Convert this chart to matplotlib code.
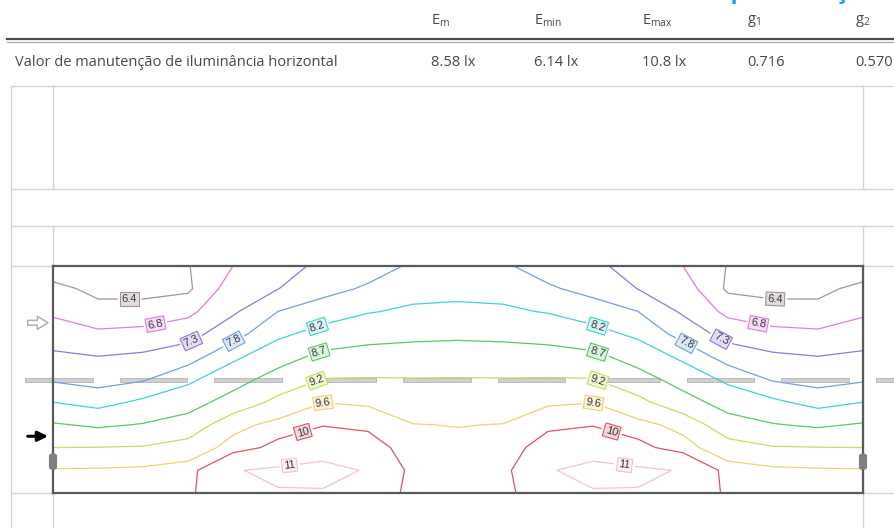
import numpy as np
import matplotlib
matplotlib.use('Agg')
from matplotlib import pyplot as plt
from matplotlib.patches import Rectangle, FancyBboxPatch

plt.rcParams['font.family'] = ['Open Sans', 'DejaVu Sans']
plt.rcParams['mathtext.fontset'] = 'custom'
plt.rcParams['mathtext.rm'] = 'Open Sans'

# tabela de resultados
headers = [r'$\mathregular{E_{m}}$', r'$\mathregular{E_{min}}$', r'$\mathregular{E_{max}}$',
           r'$\mathregular{g_{1}}$', r'$\mathregular{g_{2}}$']
row_label = 'Valor de manutenção de iluminância horizontal'
row_values = ['8.58 lx', '6.14 lx', '10.8 lx', '0.716', '0.570']

# malha de cálculo (m), iluminância em lx, linhas de cima para baixo
grid_x = np.linspace(0, 36, 19)
grid_y = np.linspace(0, 10, 11)
lux = np.array([
    [6.15, 6.20, 6.25, 6.38, 6.80, 7.12, 7.40, 7.64, 7.85, 7.90, 7.85, 7.64, 7.40, 7.12, 6.80, 6.38, 6.25, 6.20, 6.15],
    [6.51, 6.30, 6.30, 6.33, 7.02, 7.29, 7.68, 7.85, 8.05, 8.07, 8.05, 7.85, 7.68, 7.29, 7.02, 6.33, 6.30, 6.30, 6.51],
    [6.72, 6.52, 6.52, 6.68, 7.22, 7.80, 7.98, 8.17, 8.27, 8.30, 8.27, 8.17, 7.98, 7.80, 7.22, 6.68, 6.52, 6.52, 6.72],
    [7.03, 6.88, 6.94, 7.10, 7.65, 8.11, 8.36, 8.53, 8.59, 8.59, 8.59, 8.53, 8.36, 8.11, 7.65, 7.10, 6.94, 6.88, 7.03],
    [7.40, 7.31, 7.39, 7.62, 8.11, 8.49, 8.83, 8.89, 8.91, 8.99, 8.91, 8.89, 8.83, 8.49, 8.11, 7.62, 7.39, 7.31, 7.40],
    [7.75, 7.66, 7.76, 8.11, 8.50, 8.91, 9.22, 9.23, 9.22, 9.22, 9.22, 9.23, 9.22, 8.91, 8.50, 8.11, 7.76, 7.66, 7.75],
    [8.20, 8.04, 8.29, 8.50, 8.90, 9.32, 9.59, 9.54, 9.41, 9.40, 9.41, 9.54, 9.59, 9.32, 8.90, 8.50, 8.29, 8.04, 8.20],
    [8.75, 8.63, 8.73, 8.91, 9.50, 9.70, 9.96, 9.88, 9.61, 9.59, 9.61, 9.88, 9.96, 9.70, 9.50, 8.91, 8.73, 8.63, 8.75],
    [9.20, 9.21, 9.23, 9.39, 9.72, 10.18, 10.70, 10.30, 9.70, 9.68, 9.70, 10.30, 10.70, 10.18, 9.72, 9.39, 9.23, 9.21, 9.20],
    [9.63, 9.64, 9.67, 9.74, 10.95, 11.15, 11.20, 10.95, 9.78, 9.75, 9.78, 10.95, 11.20, 11.15, 10.95, 9.74, 9.67, 9.64, 9.63],
    [9.85, 9.86, 9.87, 9.85, 10.75, 10.95, 10.95, 10.45, 9.82, 9.80, 9.82, 10.45, 10.95, 10.95, 10.75, 9.85, 9.87, 9.86, 9.85],
])
iso_levels = [6.4, 6.8, 7.3, 7.8, 8.2, 8.7, 9.2, 9.6, 10, 11]
iso_colors = ['#a89494', '#e07ee0', '#9478d8', '#74a0e2', '#3ed4d0',
              '#58c868', '#c4e058', '#f0d070', '#e05466', '#f2c4cc']
iso_fills = ['#e4dcdc', '#f6dcf6', '#e4dcf6', '#dce8f8', '#d8f6f4',
             '#dcf4de', '#f0f8d8', '#fbf3dc', '#f8d8dc', '#fcf0f2']
# posições aproximadas das etiquetas (m)
label_pos = [(3.4, 1.55), (4.6, 2.8), (6.2, 3.4), (8.0, 3.25), (11.8, 2.8),
             (11.8, 3.7), (11.7, 5.0), (12.0, 6.0), (11.1, 7.3), (10.5, 8.7),
             (32.1, 1.55), (31.3, 2.8), (29.6, 3.4), (28.1, 3.5), (24.1, 2.95),
             (24.2, 3.8), (24.2, 5.1), (24.0, 6.1), (24.8, 7.4), (25.4, 8.8)]

W, H = 895, 528
fig = plt.figure(figsize=(W / 100, H / 100), dpi=100)

# fundo: tabela e grelha em pixels
bg = fig.add_axes([0, 0, 1, 1])
bg.set_xlim(0, W)
bg.set_ylim(H, 0)
bg.axis('off')

txt = '#484848'
light = '#d4d4d4'
hx = [431, 534, 642, 747, 855]
for x, h, v in zip(hx, headers, row_values):
    bg.text(x, 21, h, fontsize=10.5, color=txt, va='center', ha='left')
    bg.text(x, 62, v, fontsize=10.5, color=txt, va='center', ha='left')
bg.text(15, 62, row_label, fontsize=10.5, color=txt, va='center', ha='left')
bg.text(702, -2, 'Representação', fontsize=17, fontweight='bold', color='#1e9ee6',
        va='baseline', ha='left')

bg.plot([7, W], [39, 39], color='#4a4a4a', lw=1.6)
bg.plot([7, W], [41.5, 41.5], color='#a0a0a0', lw=0.8)
for y in [86, 189, 226, 266]:
    bg.plot([11, W], [y, y], color=light, lw=1)
bg.plot([11, 53], [493, 493], color=light, lw=1)
bg.plot([863, W], [493, 493], color=light, lw=1)
bg.plot([11, 11], [86, H], color=light, lw=1)
for x in [53, 863]:
    bg.plot([x, x], [86, 189], color=light, lw=1)
    bg.plot([x, x], [226, H], color=light, lw=1)

# isolinhas
ax = fig.add_axes([53 / W, (H - 493) / H, 810 / W, 227 / H])
ax.set_xlim(0, 36)
ax.set_ylim(10, 0)
ax.set_xticks([])
ax.set_yticks([])
for s in ax.spines.values():
    s.set_color('#5a5a5a')
    s.set_linewidth(1.6)
    s.set_zorder(5)

# marcação central da via
for x0 in np.arange(-1.24, 37.5, 4.2):
    ax.add_patch(Rectangle((x0, 4.93), 3.0, 0.17, fc='#d0d0d0', ec='#b4b4b4',
                           lw=0.6, clip_on=False, zorder=1))

cs = ax.contour(grid_x, grid_y, lux, levels=iso_levels, colors=iso_colors,
                linewidths=0.9, zorder=2)
fmt = {lv: '{:g}'.format(lv) for lv in iso_levels}
labels = ax.clabel(cs, iso_levels, inline=True, inline_spacing=4, fmt=fmt,
                   fontsize=8, colors='#3a3a3a', manual=label_pos)
by_text = {fmt[lv]: (c, f) for lv, c, f in zip(iso_levels, iso_colors, iso_fills)}
for t in labels:
    t.set_family(['Liberation Sans', 'DejaVu Sans'])
    c, f = by_text[t.get_text()]
    t.set_bbox(dict(boxstyle='square,pad=0.15', fc=f, ec=c, lw=0.8))
    t.set_zorder(4)

# sentido de circulação
ax.annotate('', xy=(-0.1, 2.5), xytext=(-1.25, 2.5), annotation_clip=False,
            arrowprops=dict(arrowstyle='simple,head_width=0.55,head_length=0.45,tail_width=0.2',
                            mutation_scale=17, fc='white', ec='#b0b0b0', lw=1.1))
ax.annotate('', xy=(-0.1, 7.5), xytext=(-1.25, 7.5), annotation_clip=False,
            arrowprops=dict(arrowstyle='-|>,head_width=0.3,head_length=0.6',
                            color='black', lw=2.2))

# luminárias nas bermas
for xm in [0, 36]:
    ax.add_patch(FancyBboxPatch((xm - 0.13, 8.32), 0.26, 0.6,
                                boxstyle='round,pad=0.02,rounding_size=0.08',
                                fc='#808080', ec='#808080', clip_on=False, zorder=6))

fig.savefig('out.png', dpi=100)
